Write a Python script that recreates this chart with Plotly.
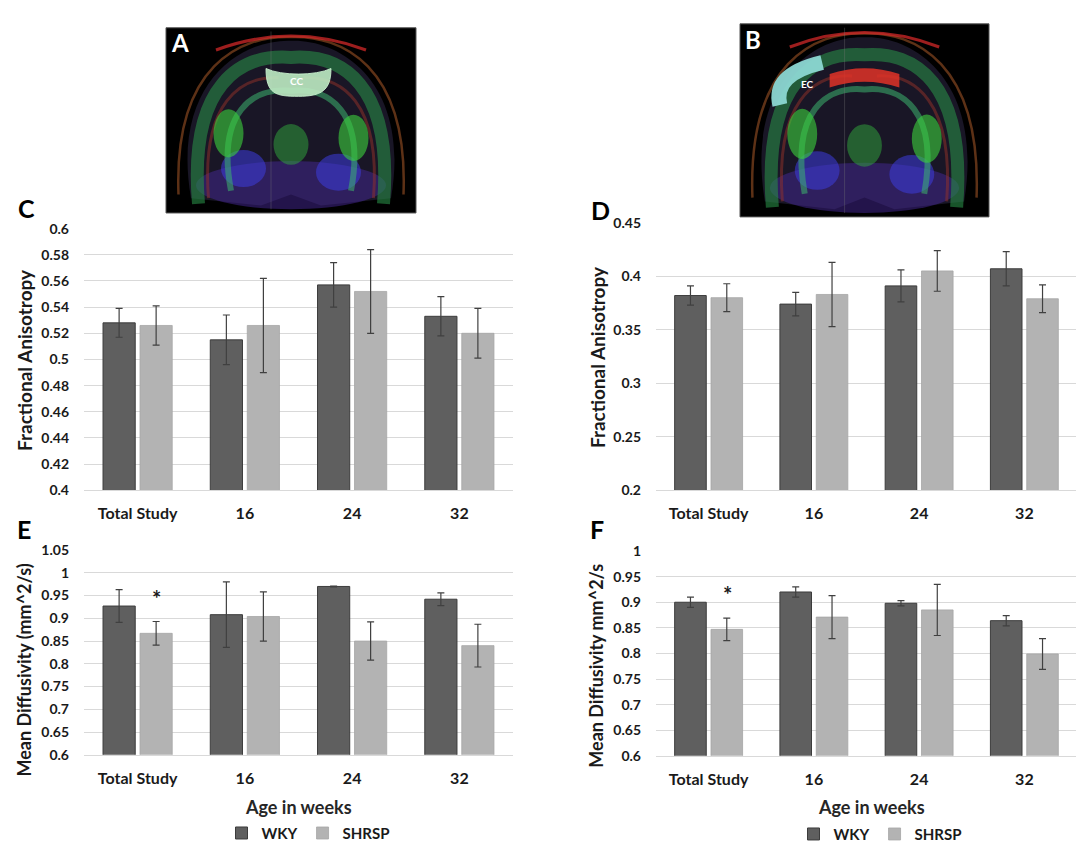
import plotly.graph_objects as go

W, H = 1084, 845

ages = ['Total Study', '16', '24', '32']

# C: corpus callosum FA
fa_cc_wky = [0.528, 0.515, 0.557, 0.533]
fa_cc_wky_err = [0.011, 0.019, 0.017, 0.015]
fa_cc_shrsp = [0.526, 0.526, 0.552, 0.520]
fa_cc_shrsp_err = [0.015, 0.036, 0.032, 0.019]

# D: external capsule FA
fa_ec_wky = [0.382, 0.374, 0.391, 0.407]
fa_ec_wky_err = [0.009, 0.011, 0.015, 0.016]
fa_ec_shrsp = [0.380, 0.383, 0.405, 0.379]
fa_ec_shrsp_err = [0.013, 0.030, 0.019, 0.013]

# E: corpus callosum MD
md_cc_wky = [0.927, 0.908, 0.970, 0.942]
md_cc_wky_err = [0.036, 0.072, 0.001, 0.014]
md_cc_shrsp = [0.867, 0.904, 0.850, 0.840]
md_cc_shrsp_err = [0.026, 0.054, 0.042, 0.047]

# F: external capsule MD
md_ec_wky = [0.900, 0.920, 0.898, 0.864]
md_ec_wky_err = [0.010, 0.010, 0.005, 0.010]
md_ec_shrsp = [0.847, 0.871, 0.885, 0.799]
md_ec_shrsp_err = [0.022, 0.042, 0.050, 0.030]

DARK = '#5f5f5f'
LIGHT = '#b3b3b3'
FONT = 'Lato'
INK = '#1a1a1a'


def px(x):
    return x / W


def py(y):
    return 1 - y / H


fig = go.Figure()

panels = [
    ('x', 'y', fa_cc_wky, fa_cc_wky_err, fa_cc_shrsp, fa_cc_shrsp_err, None),
    ('x2', 'y2', fa_ec_wky, fa_ec_wky_err, fa_ec_shrsp, fa_ec_shrsp_err, None),
    ('x3', 'y3', md_cc_wky, md_cc_wky_err, md_cc_shrsp, md_cc_shrsp_err, 'legend'),
    ('x4', 'y4', md_ec_wky, md_ec_wky_err, md_ec_shrsp, md_ec_shrsp_err, 'legend2'),
]

for xa, ya, wky, wky_e, shr, shr_e, leg in panels:
    fig.add_trace(go.Bar(
        x=ages, y=wky, name='WKY', xaxis=xa, yaxis=ya,
        marker=dict(color=DARK, line=dict(color='#3c3c3c', width=1)),
        error_y=dict(type='data', array=wky_e, color='#404040', thickness=1.2, width=3.5),
        showlegend=leg is not None, legend=leg or 'legend'))
    fig.add_trace(go.Bar(
        x=ages, y=shr, name='SHRSP', xaxis=xa, yaxis=ya,
        marker=dict(color=LIGHT, line=dict(color='#a6a6a6', width=0.8)),
        error_y=dict(type='data', array=shr_e, color='#404040', thickness=1.2, width=3.5),
        showlegend=leg is not None, legend=leg or 'legend'))

grid = '#d9d9d9'
xcommon = dict(type='category', showgrid=False, showline=True, linecolor=grid,
               ticks='', ticklabelstandoff=9,
               tickfont=dict(family=FONT, size=16, color=INK, weight='bold'))
ycommon = dict(showgrid=True, gridcolor=grid, gridwidth=1, zeroline=False,
               showline=False, ticks='', ticklabelstandoff=14,
               tickfont=dict(family=FONT, size=14, color=INK, weight='bold'))

cx = [px(76), px(505)]
dx = [px(648), px(1069)]

legfont = dict(family=FONT, size=15, color=INK, weight='bold')

fig.update_layout(
    width=W, height=H,
    margin=dict(l=0, r=0, t=0, b=0),
    paper_bgcolor='white', plot_bgcolor='white',
    barmode='group', bargap=0.31, bargroupgap=0.13,
    font=dict(family=FONT, color=INK),
    xaxis=dict(domain=cx, anchor='y', **xcommon),
    yaxis=dict(domain=[py(483), py(216)], range=[0.4, 0.6], dtick=0.02, anchor='x', **ycommon),
    xaxis2=dict(domain=dx, anchor='y2', **xcommon),
    yaxis2=dict(domain=[py(483), py(210)], range=[0.2, 0.45], dtick=0.05, anchor='x2', **ycommon),
    xaxis3=dict(domain=cx, anchor='y3', **xcommon),
    yaxis3=dict(domain=[py(753), py(544)], range=[0.6, 1.05], dtick=0.05, anchor='x3', **ycommon),
    xaxis4=dict(domain=dx, anchor='y4', **xcommon),
    yaxis4=dict(domain=[py(754), py(545)], range=[0.6, 1.0], dtick=0.05, anchor='x4', **ycommon),
    legend=dict(orientation='h', x=px(300), y=py(833), xanchor='center', yanchor='middle',
                font=legfont, itemwidth=30, bgcolor='rgba(0,0,0,0)', traceorder='normal'),
    legend2=dict(orientation='h', x=px(872), y=py(834), xanchor='center', yanchor='middle',
                 font=legfont, itemwidth=30, bgcolor='rgba(0,0,0,0)', traceorder='normal'),
)

ann = []
# panel letters
for letter, x, y in [('C', 18, 195), ('D', 592, 197), ('E', 16, 523), ('F', 589, 523)]:
    ann.append(dict(text=letter, x=px(x), y=py(y), xref='paper', yref='paper', showarrow=False,
                    xanchor='center', yanchor='middle',
                    font=dict(family=FONT, size=25, color='black', weight='bold')))
# y axis titles
for t, x, y, s in [('Fractional Anisotropy', 17, 350, 19), ('Fractional Anisotropy', 589, 347, 19),
                   ('Mean Diffusivity (mm^2/s)', 16, 667, 18), ('Mean Diffusivity mm^2/s', 588, 662, 18)]:
    ann.append(dict(text=t, x=px(x), y=py(y), xref='paper', yref='paper', showarrow=False,
                    textangle=-90, xanchor='center', yanchor='middle',
                    font=dict(family=FONT, size=s, color=INK, weight='bold')))
# x axis titles
for x, y in [(290, 806), (863, 806)]:
    ann.append(dict(text='Age in weeks', x=px(x), y=py(y), xref='paper', yref='paper', showarrow=False,
                    xanchor='center', yanchor='middle',
                    font=dict(family=FONT, size=18, color='#262626', weight='bold')))

# significance stars over SHRSP "Total Study" bars
cat_w = (505 - 76) / 4
shift = cat_w * (1 - 0.31) / 4
for xa, ya, top in [('x3', 'y3', md_cc_shrsp[0] + md_cc_shrsp_err[0]),
                    ('x4', 'y4', md_ec_shrsp[0] + md_ec_shrsp_err[0])]:
    ann.append(dict(text='*', x=ages[0], y=top, xref=xa, yref=ya, xshift=shift, yshift=8,
                    showarrow=False, xanchor='center', yanchor='bottom',
                    font=dict(family=FONT, size=22, color=INK, weight='bold')))

# schematic brain images (A, B)
shapes = []


def brain(x0, y0, w, h, roi):
    def P(u, v):
        return f'{px(x0 + u * w):.5f},{py(y0 + v * h):.5f}'

    def path(d, color, width, fill=None):
        s = dict(type='path', path=d, xref='paper', yref='paper', line=dict(color=color, width=width))
        if fill:
            s['fillcolor'] = fill
        shapes.append(s)

    def ell(u0, v0, u1, v1, fill):
        shapes.append(dict(type='circle', xref='paper', yref='paper',
                           x0=px(x0 + u0 * w), x1=px(x0 + u1 * w),
                           y0=py(y0 + v0 * h), y1=py(y0 + v1 * h),
                           fillcolor=fill, line=dict(width=0)))

    shapes.append(dict(type='rect', xref='paper', yref='paper', x0=px(x0), x1=px(x0 + w),
                       y0=py(y0), y1=py(y0 + h), fillcolor='black', line=dict(color='#555', width=1)))
    # brain body
    path(f'M{P(0.10,0.92)} C{P(0.02,0.3)} {P(0.3,0.06)} {P(0.5,0.07)} C{P(0.7,0.06)} {P(0.98,0.3)} '
         f'{P(0.90,0.92)} L{P(0.62,0.96)} L{P(0.50,0.90)} L{P(0.38,0.96)} Z',
         'rgba(0,0,0,0)', 0, 'rgba(45,40,70,0.55)')
    ell(0.12, 0.72, 0.88, 0.98, 'rgba(70,40,150,0.5)')
    ell(0.22, 0.66, 0.40, 0.86, 'rgba(60,60,220,0.55)')
    ell(0.60, 0.68, 0.78, 0.88, 'rgba(60,60,220,0.55)')
    path(f'M{P(0.05,0.9)} C{P(0.03,0.2)} {P(0.3,0.04)} {P(0.5,0.05)} C{P(0.7,0.04)} {P(0.97,0.2)} {P(0.95,0.9)}',
         'rgba(170,90,40,0.55)', 2.5)
    path(f'M{P(0.13,0.95)} C{P(0.09,0.3)} {P(0.3,0.14)} {P(0.5,0.16)} C{P(0.7,0.14)} {P(0.91,0.3)} {P(0.87,0.95)}',
         'rgba(40,140,70,0.6)', 13)
    path(f'M{P(0.17,0.92)} C{P(0.14,0.4)} {P(0.3,0.26)} {P(0.45,0.27)}',
         'rgba(150,50,40,0.5)', 3)
    path(f'M{P(0.83,0.92)} C{P(0.86,0.4)} {P(0.7,0.26)} {P(0.55,0.27)}',
         'rgba(150,50,40,0.5)', 3)
    path(f'M{P(0.26,0.88)} C{P(0.2,0.45)} {P(0.35,0.32)} {P(0.5,0.34)} C{P(0.65,0.32)} {P(0.8,0.45)} {P(0.74,0.88)}',
         'rgba(60,180,110,0.55)', 6)
    ell(0.19, 0.44, 0.31, 0.70, 'rgba(60,210,60,0.6)')
    ell(0.69, 0.47, 0.81, 0.72, 'rgba(60,210,60,0.6)')
    ell(0.43, 0.52, 0.57, 0.74, 'rgba(50,170,60,0.5)')
    path(f'M{P(0.2,0.12)} Q{P(0.5,-0.03)} {P(0.8,0.12)}', 'rgba(210,40,40,0.75)', 3)
    shapes.append(dict(type='line', xref='paper', yref='paper', x0=px(x0 + 0.42 * w), x1=px(x0 + 0.42 * w),
                       y0=py(y0 + 0.02 * h), y1=py(y0 + 0.98 * h),
                       line=dict(color='rgba(120,120,120,0.35)', width=1)))
    if roi == 'CC':
        path(f'M{P(0.40,0.22)} C{P(0.40,0.36)} {P(0.44,0.37)} {P(0.53,0.37)} '
             f'C{P(0.62,0.37)} {P(0.66,0.34)} {P(0.66,0.22)} C{P(0.60,0.26)} {P(0.46,0.26)} {P(0.40,0.22)} Z',
             'rgba(200,240,205,0.9)', 1, 'rgba(190,235,195,0.9)')
        lx, ly = 0.52, 0.29
    else:
        path(f'M{P(0.36,0.26)} Q{P(0.5,0.20)} {P(0.64,0.26)} L{P(0.64,0.33)} Q{P(0.5,0.27)} {P(0.36,0.33)} Z',
             'rgba(0,0,0,0)', 0, 'rgba(225,50,40,0.85)')
        path(f'M{P(0.16,0.42)} C{P(0.14,0.31)} {P(0.2,0.24)} {P(0.33,0.20)}',
             'rgba(140,215,210,0.95)', 15)
        lx, ly = 0.27, 0.31
    ann.append(dict(text=roi, x=px(x0 + lx * w), y=py(y0 + ly * h), xref='paper', yref='paper',
                    showarrow=False, xanchor='center', yanchor='middle',
                    font=dict(family=FONT, size=10, color='white', weight='bold')))


brain(158, 11, 250, 189, 'CC')
brain(732, 7, 249, 197, 'EC')

for letter, x, y in [('A', 172, 26), ('B', 745, 23)]:
    ann.append(dict(text=letter, x=px(x), y=py(y), xref='paper', yref='paper', showarrow=False,
                    xanchor='center', yanchor='middle',
                    font=dict(family=FONT, size=24, color='white', weight='bold')))

fig.update_layout(annotations=ann, shapes=shapes)
fig.write_html('out.html')
